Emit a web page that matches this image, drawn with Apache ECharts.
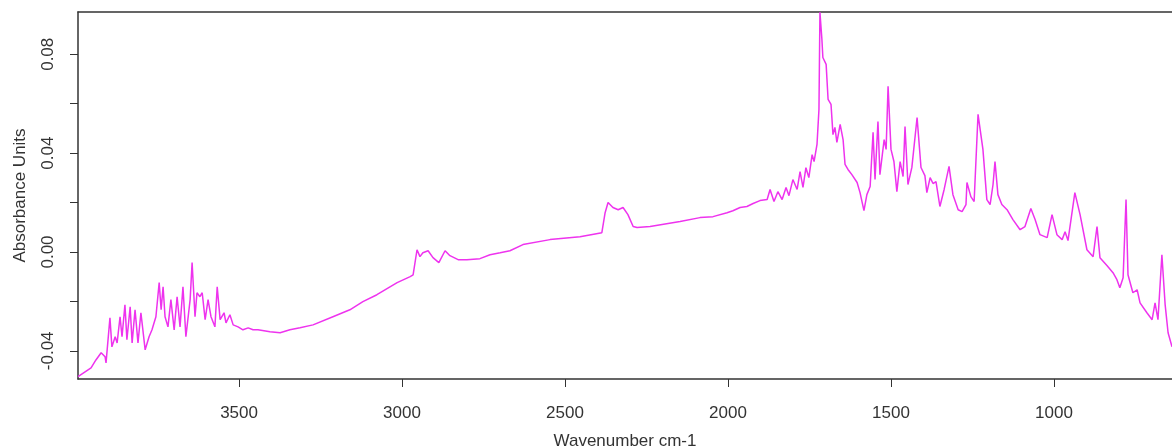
<!DOCTYPE html>
<html>
<head>
<meta charset="utf-8">
<script src="https://cdn.jsdelivr.net/npm/echarts@6/dist/echarts.min.js"></script>
<style>
html,body{margin:0;padding:0;background:#fff;}
#chart{width:1172px;height:447px;}
</style>
</head>
<body>
<div id="chart"></div>
<script>
// Wavenumber (cm-1) and absorbance values
const wavenumbers = [
3994,3954,3939,3923,3911,3908,3896,3890,3880,3874,3865,3859,3850,3844,3834,3828,3819,3810,3801,3788,
3776,3767,3755,3745,3739,3733,3727,3718,3709,3699,3690,3681,3672,3663,3650,3644,3635,3629,3620,3613,
3604,3595,3586,3574,3567,3558,3546,3540,3528,3518,3503,3488,3472,3457,3442,3405,3374,3344,3313,3273,
3212,3160,3120,3077,3015,2975,2966,2954,2945,2936,2920,2905,2887,2868,2853,2828,2801,2761,2730,2699,
2669,2629,2546,2454,2387,2377,2368,2353,2337,2322,2307,2291,2279,2239,2147,2086,2046,2003,1985,1963,
1942,1923,1902,1880,1871,1859,1847,1834,1822,1813,1801,1788,1779,1770,1761,1752,1742,1736,1727,1721,
1718,1712,1709,1699,1693,1684,1678,1672,1666,1656,1647,1641,1632,1620,1604,1595,1583,1574,1564,1555,
1549,1540,1534,1521,1515,1509,1500,1491,1482,1472,1463,1457,1448,1436,1420,1408,1396,1390,1380,1371,
1362,1350,1337,1322,1310,1294,1282,1270,1267,1255,1245,1233,1218,1206,1196,1187,1181,1172,1160,1144,
1126,1104,1089,1071,1058,1043,1021,1006,991,975,966,957,936,920,899,880,868,859,837,819,
807,798,788,779,773,758,745,736,715,699,690,681,669,659,650,638
];
const absorbance = [
-0.0504,-0.0469,-0.0437,-0.0408,-0.0424,-0.0449,-0.0266,-0.0384,-0.0343,-0.0368,-0.0262,-0.0343,-0.0214,-0.0355,-0.0222,-0.0368,-0.0234,-0.0368,-0.0246,-0.0396,
-0.0343,-0.0315,-0.0262,-0.0124,-0.0234,-0.0141,-0.0262,-0.0303,-0.0193,-0.0315,-0.0181,-0.0303,-0.0141,-0.0343,-0.0193,-0.0043,-0.0262,-0.0165,-0.0181,-0.0165,
-0.0274,-0.0193,-0.0262,-0.0303,-0.0141,-0.0274,-0.0246,-0.0287,-0.0254,-0.0295,-0.0303,-0.0315,-0.0307,-0.0315,-0.0315,-0.0323,-0.0327,-0.0315,-0.0307,-0.0295,
-0.0262,-0.0234,-0.0201,-0.0173,-0.0124,-0.0100,-0.0093,0.0009,-0.0019,-0.0003,0.0005,-0.0023,-0.0043,0.0005,-0.0015,-0.0031,-0.0031,-0.0027,-0.0011,-0.0003,
0.0005,0.0030,0.0050,0.0062,0.0078,0.0159,0.0200,0.0180,0.0171,0.0180,0.0151,0.0103,0.0099,0.0103,0.0123,0.0139,0.0143,0.0159,0.0167,0.0180,
0.0184,0.0196,0.0208,0.0212,0.0253,0.0204,0.0244,0.0212,0.0261,0.0228,0.0293,0.0253,0.0325,0.0261,0.0341,0.0301,0.0394,0.0366,0.0435,0.0577,
0.0970,0.0861,0.0787,0.0759,0.0617,0.0597,0.0475,0.0504,0.0443,0.0516,0.0455,0.0354,0.0334,0.0313,0.0281,0.0240,0.0167,0.0232,0.0265,0.0484,
0.0293,0.0528,0.0313,0.0455,0.0415,0.0670,0.0415,0.0366,0.0244,0.0366,0.0305,0.0508,0.0273,0.0342,0.0544,0.0342,0.0309,0.0240,0.0301,0.0277,
0.0285,0.0184,0.0253,0.0346,0.0232,0.0171,0.0163,0.0192,0.0281,0.0224,0.0204,0.0557,0.0415,0.0212,0.0192,0.0273,0.0366,0.0232,0.0192,0.0171,
0.0131,0.0090,0.0103,0.0176,0.0131,0.0070,0.0058,0.0151,0.0070,0.0050,0.0082,0.0046,0.0240,0.0151,0.0009,-0.0019,0.0103,-0.0023,-0.0056,-0.0084,
-0.0112,-0.0145,-0.0104,0.0212,-0.0092,-0.0165,-0.0153,-0.0206,-0.0246,-0.0274,-0.0206,-0.0274,-0.0011,-0.0214,-0.0327,-0.0384
];
const xTicks = [3500, 3000, 2500, 2000, 1500, 1000];
const yTicks = [-0.04, -0.02, 0, 0.02, 0.04, 0.06, 0.08];
const yLabels = [-0.04, 0, 0.04, 0.08];

const seriesData = wavenumbers.map((w, i) => [w, absorbance[i]]);
const font = 'Liberation Sans, Arial, sans-serif';
const axisColor = '#333333';

const chart = echarts.init(document.getElementById('chart'), null, {renderer: 'canvas'});
chart.setOption({
  animation: false,
  backgroundColor: '#ffffff',
  grid: {left: 78, top: 12, right: 0, bottom: 68, show: false, containLabel: false, outerBoundsMode: 'none'},
  xAxis: [{
    type: 'value',
    inverse: true,
    min: 638, max: 3994,
    name: 'Wavenumber cm-1',
    nameLocation: 'middle',
    nameGap: 54,
    nameTextStyle: {fontFamily: font, fontSize: 17, color: axisColor},
    axisLine: {show: true, onZero: false, lineStyle: {color: axisColor, width: 1.5}},
    splitLine: {show: false},
    axisTick: {show: true, length: 8, customValues: xTicks, lineStyle: {color: axisColor, width: 1}},
    axisLabel: {
      show: true, customValues: xTicks, margin: 26,
      fontFamily: font, fontSize: 17, color: axisColor,
      formatter: v => String(Math.round(v))
    }
  }, {
    type: 'value',
    position: 'top',
    inverse: true,
    min: 638, max: 3994,
    axisLine: {show: true, onZero: false, lineStyle: {color: axisColor, width: 1.5}},
    splitLine: {show: false},
    axisTick: {show: false},
    axisLabel: {show: false}
  }],
  yAxis: {
    type: 'value',
    min: -0.0514, max: 0.0971,
    name: 'Absorbance Units',
    nameLocation: 'middle',
    nameGap: 49,
    nameRotate: 90,
    nameTextStyle: {fontFamily: font, fontSize: 17, color: axisColor},
    axisLine: {show: true, onZero: false, lineStyle: {color: axisColor, width: 1.5}},
    splitLine: {show: false},
    axisTick: {show: true, length: 8, customValues: yTicks, lineStyle: {color: axisColor, width: 1}},
    axisLabel: {
      show: true, customValues: yLabels, rotate: 90, margin: 21,
      fontFamily: font, fontSize: 17, color: axisColor,
      formatter: v => Number(v).toFixed(2)
    }
  },
  series: [{
    type: 'line',
    xAxisIndex: 0,
    data: seriesData,
    showSymbol: false,
    symbol: 'none',
    lineStyle: {color: '#ee33ee', width: 1.5},
    itemStyle: {color: '#ee33ee'},
    clip: true
  }]
});
</script>
</body>
</html>
